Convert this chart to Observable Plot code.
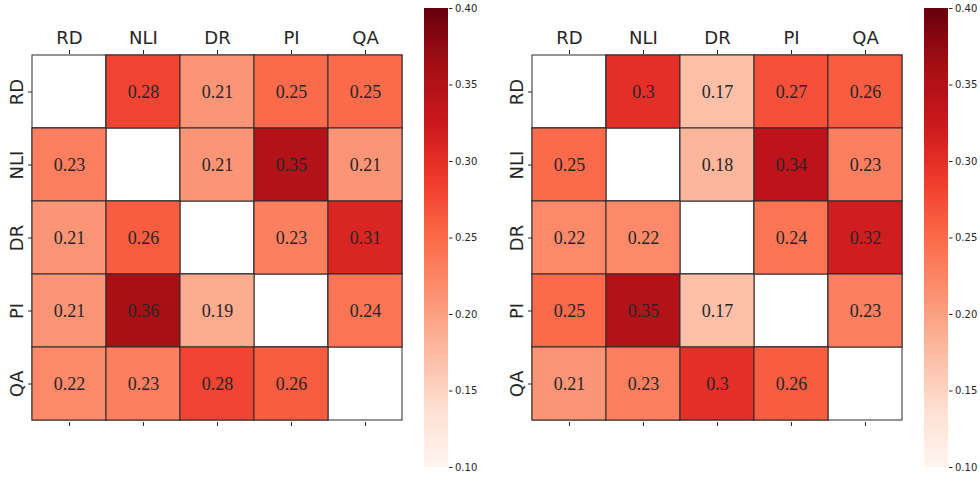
<!DOCTYPE html>
<html>
<head>
<meta charset="utf-8">
<script src="https://cdn.jsdelivr.net/npm/d3@7"></script>
<script src="https://cdn.jsdelivr.net/npm/@observablehq/plot@0.6"></script>
<style>
  html, body { margin: 0; padding: 0; background: #fff; }
  #root { position: relative; width: 980px; height: 479px; overflow: hidden; }
  .panel { position: absolute; top: 0; }
  .panel svg { max-width: none !important; }
</style>
</head>
<body>
<div id="root"></div>
<script>
const tasks = ["RD", "NLI", "DR", "PI", "QA"];

// rows = y category, columns = x category (null on the diagonal)
const leftRD  = [null, 0.28, 0.21, 0.25, 0.25];
const leftNLI = [0.23, null, 0.21, 0.35, 0.21];
const leftDR  = [0.21, 0.26, null, 0.23, 0.31];
const leftPI  = [0.21, 0.36, 0.19, null, 0.24];
const leftQA  = [0.22, 0.23, 0.28, 0.26, null];

const rightRD  = [null, 0.3, 0.17, 0.27, 0.26];
const rightNLI = [0.25, null, 0.18, 0.34, 0.23];
const rightDR  = [0.22, 0.22, null, 0.24, 0.32];
const rightPI  = [0.25, 0.35, 0.17, null, 0.23];
const rightQA  = [0.21, 0.23, 0.3, 0.26, null];

const colorTicks = [0.10, 0.15, 0.20, 0.25, 0.30, 0.35, 0.40];
const colorDomain = [0.1, 0.4];
// matplotlib "Reds" anchor colours (ColorBrewer 9-class)
const redsStops = ["#fff5f0", "#fee0d2", "#fcbba1", "#fc9272", "#fb6a4a", "#ef3b2c", "#cb181d", "#a50f15", "#67000d"];

function toTable(rows) {
  const out = [];
  rows.forEach((row, i) => row.forEach((v, j) => out.push({y: tasks[i], x: tasks[j], v})));
  return out;
}

const colorOpts = {
  type: "linear",
  domain: redsStops.map((_, i) => colorDomain[0] + (colorDomain[1] - colorDomain[0]) * i / (redsStops.length - 1)),
  range: redsStops,
  interpolate: "rgb",
  clamp: true
};

function heatmap(rows) {
  const data = toTable(rows);
  const vals = data.filter(d => d.v != null);
  return Plot.plot({
    width: 420, height: 479,
    marginLeft: 32, marginRight: 18, marginTop: 53, marginBottom: 57,
    x: {domain: tasks, padding: 0, axis: null, label: null},
    y: {domain: tasks, padding: 0, axis: null, label: null},
    color: colorOpts,
    style: {background: "transparent"},
    marks: [
      Plot.cell(data, {x: "x", y: "y", fill: "white", stroke: "#2b2b2b", strokeWidth: 1}),
      Plot.cell(vals, {x: "x", y: "y", fill: "v", stroke: "#2b2b2b", strokeWidth: 1}),
      Plot.text(vals, {x: "x", y: "y", text: d => String(d.v), fill: "#262626",
        fontSize: 18, fontFamily: "'Liberation Serif', 'Times New Roman', serif"}),
      Plot.axisX({anchor: "top", label: null, tickSize: 4, tickPadding: 6, fontSize: 18,
        fontFamily: "'DejaVu Sans', sans-serif", color: "#262626", stroke: "#262626"}),
      Plot.axisX({anchor: "bottom", label: null, tickSize: 4, tickFormat: () => "", stroke: "#262626"}),
      Plot.axisY({anchor: "left", label: null, tickSize: 4, tickPadding: 6, fontSize: 18, tickRotate: -90,
        fontFamily: "'DejaVu Sans', sans-serif", color: "#262626", stroke: "#262626"})
    ]
  });
}

function colorbar() {
  const step = 0.001;
  const steps = d3.range(0.1, 0.4, step);
  return Plot.plot({
    width: 80, height: 479,
    marginLeft: 14, marginRight: 42, marginTop: 8, marginBottom: 12,
    y: {domain: colorDomain, axis: null, label: null},
    color: colorOpts,
    style: {background: "transparent"},
    marks: [
      Plot.rect(steps, {y1: d => d, y2: d => Math.min(0.4, d + step * 1.5), fill: d => d + step / 2}),
      Plot.axisY(colorTicks, {anchor: "right", label: null, tickSize: 3.5, tickPadding: 3, fontSize: 10,
        tickFormat: d3.format(".2f"), fontFamily: "'DejaVu Sans', sans-serif",
        color: "#262626", stroke: "#262626"})
    ]
  });
}

const root = document.getElementById("root");
function place(el, left, w) {
  const d = document.createElement("div");
  d.className = "panel";
  d.style.left = left + "px";
  d.style.width = w + "px";
  d.appendChild(el);
  root.appendChild(d);
}
place(heatmap([leftRD, leftNLI, leftDR, leftPI, leftQA]), 0, 420);
place(colorbar(), 410, 80);
place(heatmap([rightRD, rightNLI, rightDR, rightPI, rightQA]), 500, 420);
place(colorbar(), 910, 80);
</script>
</body>
</html>
